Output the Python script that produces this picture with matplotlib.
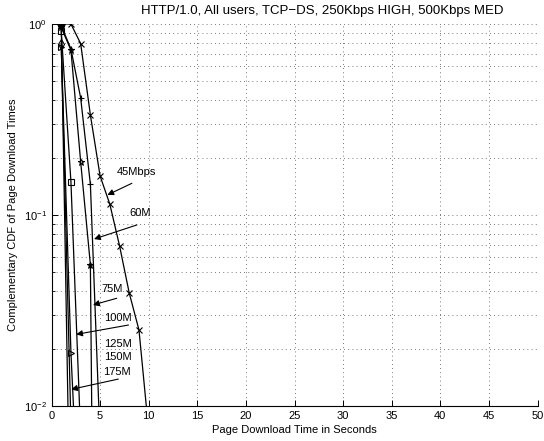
import matplotlib
matplotlib.use("Agg")
import matplotlib.pyplot as plt
from matplotlib.ticker import LogLocator, NullFormatter, MultipleLocator

plt.rcParams['font.family'] = ['Liberation Sans', 'DejaVu Sans']
plt.rcParams['mathtext.fontset'] = 'custom'
plt.rcParams['mathtext.rm'] = 'Liberation Sans'

title = "HTTP/1.0, All users, TCP\u2212DS, 250Kbps HIGH, 500Kbps MED"
xlabel = "Page Download Time in Seconds"
ylabel = "Complementary CDF of Page Download Times"

# series (x in seconds, y = CCDF)
x45 = [1, 2, 3, 4, 5, 6, 7, 8, 9, 10]
y45 = [1.0, 1.0, 0.79, 0.334, 0.16, 0.114, 0.069, 0.039, 0.025, 0.0074]
x60 = [1, 2, 3, 4, 5]
y60 = [0.98, 0.74, 0.41, 0.145, 0.0066]
x75 = [1, 2, 3, 4, 5]
y75 = [0.96, 0.73, 0.19, 0.055, 2e-7]
x100 = [1, 2, 3]
y100 = [0.92, 0.149, 0.007]
x125 = [1, 2, 3]
y125 = [0.76, 0.019, 0.0016]
x150 = [1, 2]
y150 = [0.79, 0.008]
x175 = [1, 2]
y175 = [1.0, 0.0013]

series = [
    (x45, y45, 'x', 'none'),
    (x60, y60, '+', 'none'),
    (x75, y75, '*', 'none'),
    (x100, y100, 's', 'none'),
    (x125, y125, '>', 'none'),
    (x150, y150, 'd', 'none'),
    (x175, y175, 'o', 'black'),
]

labels = ["45Mbps", "60M", "75M", "100M", "125M", "150M", "175M"]
label_pos = [(6.7, 0.167), (8.0, 0.102), (5.14, 0.041), (5.38, 0.029),
             (5.38, 0.021), (5.38, 0.018), (5.28, 0.015)]
arrows = {
    "45Mbps": ((8.27, 10**-0.834), (5.75, 10**-0.895)),
    "60M": ((8.79, 10**-1.052), (4.375, 10**-1.126)),
    "75M": ((6.71, 10**-1.436), (4.27, 10**-1.471)),
    "100M": ((7.92, 10**-1.576), (2.54, 10**-1.625)),
    "175M": ((6.875, 10**-1.859), (2.02, 10**-1.913)),
}

fig = plt.figure(figsize=(5.44, 4.41), dpi=100)
ax = fig.add_axes([51.5/544, 35/441, 486/544, 382/441])

for xs, ys, m, fc in series:
    ax.semilogy(xs, ys, color='black', lw=0.9, marker=m, markersize=5,
                markerfacecolor=fc, markeredgecolor='black', markeredgewidth=0.8,
                zorder=3)

ax.set_xlim(0, 50)
ax.set_ylim(0.01, 1)
ax.xaxis.set_major_locator(MultipleLocator(5))
ax.yaxis.set_major_locator(LogLocator(base=10, numticks=10))
ax.yaxis.set_minor_locator(LogLocator(base=10, subs=range(2, 10), numticks=20))
ax.yaxis.set_minor_formatter(NullFormatter())

ax.grid(True, which='major', linestyle=(0, (1, 4)), color='0.3', lw=0.6)
ax.grid(True, which='minor', axis='y', linestyle=(0, (1, 4)), color='0.3', lw=0.6)

ax.spines['top'].set_visible(False)
ax.spines['right'].set_visible(False)
ax.tick_params(which='both', direction='in', top=False, right=False, labelsize=8)
ax.tick_params(which='major', length=4, width=0.7)
ax.tick_params(which='minor', length=2, width=0.6)
for s in ax.spines.values():
    s.set_linewidth(0.8)

fig.text(322/544, 1 - 11/441, title, fontsize=9.5, ha='center', va='center')
ax.set_xlabel(xlabel, fontsize=8, labelpad=3)
ax.set_ylabel(ylabel, fontsize=8, labelpad=4)

for lab, (tx, ty) in zip(labels, label_pos):
    ax.text(tx, ty, lab, fontsize=8, va='center', ha='left')
for lab, (tail, tip) in arrows.items():
    ax.annotate("", xy=tip, xytext=tail,
                arrowprops=dict(arrowstyle='-|>', color='black', lw=0.8,
                                mutation_scale=9, shrinkA=0, shrinkB=0))

fig.savefig("out.png", dpi=100)
